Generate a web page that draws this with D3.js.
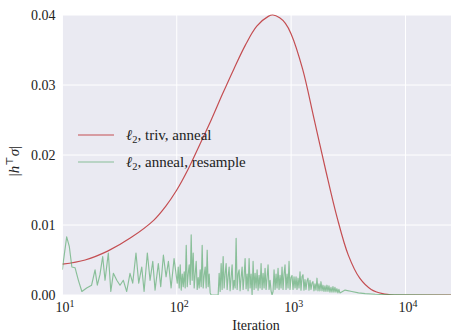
<!DOCTYPE html>
<html><head><meta charset="utf-8">
<script src="https://cdn.jsdelivr.net/npm/d3@7"></script>
<style>
html,body{margin:0;padding:0;background:#fff;}
svg text{font-family:"Liberation Serif","DejaVu Serif",serif !important;fill:#222;}
</style></head>
<body><svg id="chart" width="451" height="335"></svg>
<script>
// ---- data ----
const seriesNames = ["triv, anneal", "anneal, resample"];
const redIter = [10, 15.8, 25.1, 39.8, 63.1, 79.4, 100, 126, 158, 200, 251, 316, 398, 501, 631, 692, 794, 891, 1000, 1259, 1585, 1995, 2512, 3162, 3981, 5012, 6310, 7943, 10000, 25000];
const redVal  = [0.0044, 0.0050, 0.0063, 0.0082, 0.0107, 0.0126, 0.0150, 0.0180, 0.0214, 0.0250, 0.0287, 0.0323, 0.0357, 0.0384, 0.0398, 0.0400, 0.0396, 0.0388, 0.0373, 0.0323, 0.0252, 0.0180, 0.0112, 0.0057, 0.0024, 0.0008, 0.0002, 0, 0, 0];
const greenIter = [10, 10.2, 10.9, 11.5, 12.1, 12.9, 13.8, 14.8, 16.3, 18.0, 19.3, 20.2, 21.3, 22.5, 23.6, 25.2, 26.5, 27.9, 29.9, 31.9, 34.1, 36.5, 39.0, 41.2, 44.0, 46.5, 49.4, 51.8, 55.3, 58.4, 61.7, 64.6, 69.0, 72.4, 76.4, 80.6, 84.5, 89.2, 94.7,
  101, 103, 105, 107.2, 109.4, 111.6, 113.9, 116.2, 118.5, 121,
  123.4, 125.9, 128.5, 131.1, 133.7, 136.4, 139.2, 142, 144.9, 147.9,
  150.9, 153.9, 157, 160.2, 163.5, 166.8, 170.2, 173.7, 177.2, 180.8,
  184.5, 188.2, 192, 195.9, 199.9, 204, 208.1, 212.3, 216.6, 221,
  225.5, 230.1, 234.8, 239.5, 244.4, 249.3, 254.4, 259.6, 264.8, 270.2,
  275.7, 281.3, 287, 292.8, 298.8, 304.8, 311, 317.3, 323.8, 330.4,
  337.1, 343.9, 350.9, 358, 365.3, 372.7, 380.3, 388, 395.9, 403.9,
  412.1, 420.5, 429, 437.7, 446.6, 455.7, 464.9, 474.4, 484, 493.9,
  503.9, 514.1, 524.6, 535.2, 546.1, 557.2, 568.5, 580, 591.8, 603.8,
  616.1, 628.6, 641.4, 654.4, 667.7, 681.2, 695.1, 709.2, 723.6, 738.3,
  753.2, 768.5, 784.1, 800, 816.3, 832.8, 849.8, 867, 884.6, 902.6,
  920.9, 939.6, 958.7, 978.1, 998, 1018, 1039, 1060, 1082, 1104,
  1126, 1149, 1172, 1196, 1220, 1245, 1270, 1296, 1322, 1349,
  1376, 1404, 1433, 1462, 1492, 1522, 1553, 1584, 1616, 1649,
  1683, 1717, 1752, 1787, 1824, 1861, 1898, 1937, 1976, 2016,
  2057, 2099, 2142, 2185, 2230, 2275, 2321, 2368, 2416, 2465,
  2515, 2566, 2618, 2671,
  2965, 3394, 3880, 4440, 5430, 7060, 25000];
const greenVal = [0.0036, 0.0048, 0.0083, 0.0069, 0.0040, 0.0039, 0.0021, 0.0005, 0.0010, 0.0014, 0.0036, 0.0014, 0.0029, 0.0055, 0.0021, 0.0060, 0.0005, 0.0031, 0.0021, 0.0014, 0.0021, 0.0005, 0.0031, 0.0017, 0.0060, 0.0017, 0.0040, 0.0005, 0.0060, 0.0021, 0.0048, 0.0007, 0.0045, 0.0012, 0.0057, 0.0026, 0.0048, 0.0010, 0.0052,
  0.0017, 0.0040, 0.0010, 0.0043, 0.0007, 0.0030, 0.0012, 0.0033, 0.0010, 0.0071,
  0.0012, 0.0030, 0.0043, 0.0015, 0.0086, 0.0021, 0.0060, 0.0010, 0.0030, 0.0048,
  0.0008, 0.0025, 0.0010, 0.0036, 0.0012, 0.0071, 0.0010, 0.0028, 0.0040, 0.0010,
  0.0064, 0.0012, 0.0030, 0.0003, 0, 0, 0, 0, 0, 0,
  0, 0, 0.0031, 0.0005, 0.0045, 0.0008, 0.0055, 0.0010, 0.0030, 0.0045,
  0.0008, 0.0026, 0.0040, 0.0006, 0.0025, 0.0043, 0.0008, 0.0021, 0.0010, 0.0081,
  0.0008, 0.0030, 0.0036, 0.0006, 0.0025, 0.0040, 0.0008, 0.0026, 0.0052, 0.0009,
  0.0030, 0.0006, 0.0052, 0.0010, 0.0030, 0, 0.0048, 0.0008, 0.0031, 0.0010,
  0.0036, 0.0007, 0.0028, 0.0010, 0.0045, 0.0008, 0.0031, 0.0010, 0.0038, 0.0008,
  0.0025, 0.0043, 0.0008, 0.0021, 0.0006, 0, 0.0005, 0.0036, 0.0008, 0.0030,
  0.0010, 0.0038, 0.0008, 0.0028, 0.0010, 0.0040, 0.0008, 0.0030, 0.0043, 0.0008,
  0.0030, 0.0010, 0.0048, 0.0008, 0.0025, 0.0028, 0.0008, 0.0026, 0.0010, 0.0026,
  0.0008, 0.0024, 0.0010, 0.0033, 0.0007, 0.0026, 0.0029, 0.0007, 0.0022, 0.0008,
  0.0020, 0.0024, 0.0007, 0.0021, 0.0008, 0.0017, 0.0019, 0.0006, 0.0016, 0.0007,
  0.0024, 0.0006, 0.0016, 0.0006, 0.0019, 0.0006, 0.0014, 0.0005, 0.0013, 0.0005,
  0.0014, 0.0005, 0.0013, 0.0004, 0.0011, 0.0004, 0.0012, 0.0004, 0.0011, 0.0004,
  0.0009, 0.0003, 0.0008, 0.0003,
  0.0007, 0.0005, 0.0003, 0.0002, 0.0001, 0.00005, 0];
const yTicks = [0, 0.01, 0.02, 0.03, 0.04];
const xTicks = [10, 100, 1000, 10000];
const xTickExp = ["1", "2", "3", "4"];

// ---- layout ----
const svg = d3.select("#chart");
const L = 62.4, R = 451, T = 15, B = 295;
const x = d3.scaleLog().domain([10, 25000]).range([L, R]);
const y = d3.scaleLinear().domain([0, 0.04]).range([B, T]);
const red = "#C44E52", green = "#55A868";

svg.append("defs").append("clipPath").attr("id","clip")
  .append("rect").attr("x", L).attr("y", T - 1).attr("width", R - L).attr("height", B - T + 1);

svg.append("rect").attr("x", L).attr("y", T).attr("width", R - L).attr("height", B - T).attr("fill", "#EAEAF2");

// grid
const grid = svg.append("g");
grid.selectAll("line.h").data(yTicks).join("line")
  .attr("x1", L).attr("x2", R).attr("y1", d => y(d)).attr("y2", d => y(d))
  .attr("stroke", "#fff").attr("stroke-width", 1);
grid.selectAll("line.v").data(xTicks).join("line")
  .attr("y1", T).attr("y2", B).attr("x1", d => x(d)).attr("x2", d => x(d))
  .attr("stroke", "#fff").attr("stroke-width", 1);

// axes
const yAxis = d3.axisLeft(y).tickValues(yTicks).tickFormat(d3.format(".2f")).tickSize(0).tickPadding(7);
const gy = svg.append("g").attr("transform", `translate(${L},0)`).call(yAxis);
gy.select(".domain").remove();
gy.selectAll("text").attr("font-size", 14).attr("fill", "#222").attr("dy", "0.35em");

const xAxis = d3.axisBottom(x).tickValues(xTicks).tickFormat(() => "").tickSize(0);
const gx = svg.append("g").attr("transform", `translate(0,${B})`).call(xAxis);
gx.select(".domain").remove();
gx.selectAll(".tick").each(function(d, i) {
  const t = d3.select(this).append("text").attr("y", 17).attr("x", 2).attr("text-anchor", "middle")
    .attr("font-size", 14).attr("fill", "#222");
  t.append("tspan").text("10");
  t.append("tspan").attr("dy", -5).attr("font-size", 10).text(xTickExp[i]);
});

// axis titles
svg.append("text").attr("x", 256).attr("y", 330).attr("text-anchor", "middle")
  .attr("font-size", 14).text("Iteration");
const yl = svg.append("text").attr("transform", "translate(19,161) rotate(-90)").attr("text-anchor", "middle").attr("font-size", 15);
yl.append("tspan").text("|");
yl.append("tspan").attr("font-style", "italic").text("h");
yl.append("tspan").attr("dy", -6).attr("font-size", 10).text("⊤");
yl.append("tspan").attr("dy", 6).attr("font-style", "italic").text("σ");
yl.append("tspan").text("|");

// lines
const plot = svg.append("g").attr("clip-path", "url(#clip)");
const redData = redIter.map((d, i) => [d, redVal[i]]);
const greenData = greenIter.map((d, i) => [d, greenVal[i]]);
plot.append("path").datum(redData)
  .attr("d", d3.line().x(d => x(d[0])).y(d => y(d[1])).curve(d3.curveCatmullRom.alpha(0.5)))
  .attr("fill", "none").attr("stroke", red).attr("stroke-width", 1.2);
plot.append("path").datum(greenData)
  .attr("d", d3.line().x(d => x(d[0])).y(d => y(d[1])))
  .attr("fill", "none").attr("stroke", green).attr("stroke-opacity", 0.65).attr("stroke-width", 1.15)
  .attr("stroke-linejoin", "round");

// legend
const leg = svg.append("g");
const legColors = [red, green];
const legOpac = [1, 0.65];
seriesNames.forEach((name, i) => {
  const yy = 135 + i * 27;
  leg.append("line").attr("x1", 78).attr("x2", 114).attr("y1", yy).attr("y2", yy)
    .attr("stroke", legColors[i]).attr("stroke-opacity", legOpac[i]).attr("stroke-width", 1.2);
  const t = leg.append("text").attr("x", 126).attr("y", yy + 5).attr("font-size", 15);
  t.append("tspan").attr("font-style", "italic").text("ℓ");
  t.append("tspan").attr("dy", 3).attr("font-size", 10.5).text("2");
  t.append("tspan").attr("dy", -3).text(", " + name);
});
</script></body></html>
